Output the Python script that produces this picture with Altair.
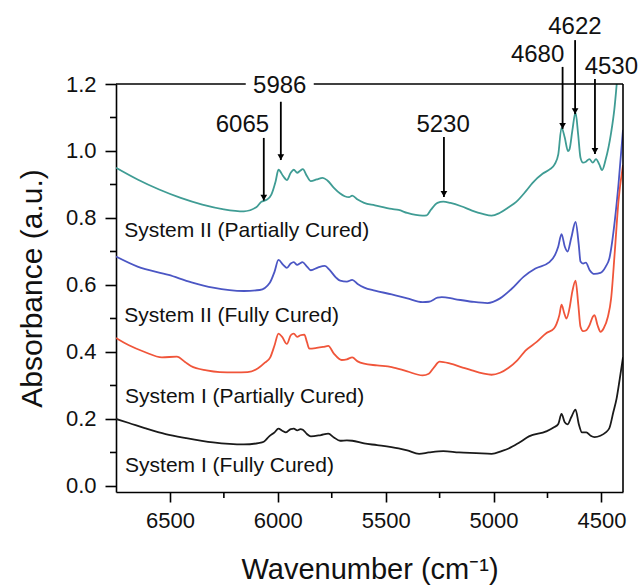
import altair as alt
import pandas as pd

# ---------------- data ----------------
series_names = ["System II (Partially Cured)", "System II (Fully Cured)",
                "System I (Partially Cured)", "System I (Fully Cured)"]
series_colors = ["#3f9c94", "#4b56c4", "#f0553a", "#1a1a1a"]

s2p_wn = [6750, 6650, 6550, 6450, 6350, 6250, 6157, 6100, 6077, 6050, 6030, 6010, 5997, 5975,
          5958, 5940, 5926, 5910, 5898, 5884, 5865, 5847, 5820, 5792, 5770, 5740, 5711, 5690,
          5670, 5655, 5630, 5600, 5550, 5472, 5440, 5400, 5329, 5310, 5290, 5260, 5233, 5200,
          5150, 5100, 5050, 5009, 4972, 4930, 4895, 4850, 4819, 4773, 4740, 4717, 4700, 4685,
          4670, 4655, 4648, 4635, 4620, 4608, 4597, 4585, 4572, 4556, 4540, 4525, 4510, 4497,
          4481, 4455, 4440, 4429, 4415]
s2p_val = [0.950, 0.915, 0.885, 0.860, 0.840, 0.826, 0.820, 0.832, 0.848, 0.855, 0.870, 0.910,
           0.944, 0.925, 0.913, 0.935, 0.944, 0.935, 0.940, 0.946, 0.925, 0.910, 0.915, 0.920,
           0.912, 0.890, 0.873, 0.865, 0.862, 0.867, 0.855, 0.845, 0.838, 0.827, 0.824, 0.815,
           0.807, 0.808, 0.825, 0.845, 0.849, 0.845, 0.835, 0.822, 0.812, 0.807, 0.815, 0.832,
           0.848, 0.880, 0.905, 0.932, 0.945, 0.960, 0.990, 1.070, 1.040, 1.000, 1.005, 1.060,
           1.115, 1.050, 0.980, 0.965, 0.968, 0.976, 0.965, 0.976, 0.960, 0.943, 0.973, 1.055,
           1.125, 1.200, 1.300]

s2f_wn = [6750, 6650, 6506, 6400, 6300, 6157, 6084, 6037, 6015, 5997, 5975, 5958, 5940, 5926,
          5910, 5898, 5886, 5865, 5847, 5815, 5782, 5760, 5730, 5711, 5680, 5655, 5630, 5599,
          5550, 5472, 5400, 5329, 5300, 5260, 5240, 5180, 5100, 5028, 4970, 4917, 4860, 4806,
          4741, 4715, 4700, 4685, 4670, 4657, 4640, 4620, 4605, 4597, 4585, 4572, 4555, 4532,
          4505, 4480, 4463, 4438, 4421, 4400]
s2f_val = [0.685, 0.655, 0.630, 0.608, 0.592, 0.582, 0.585, 0.607, 0.640, 0.675, 0.660, 0.651,
           0.664, 0.668, 0.660, 0.664, 0.668, 0.655, 0.644, 0.652, 0.657, 0.645, 0.622, 0.613,
           0.610, 0.615, 0.603, 0.592, 0.583, 0.572, 0.560, 0.549, 0.550, 0.562, 0.564, 0.558,
           0.550, 0.546, 0.560, 0.588, 0.625, 0.649, 0.668, 0.690, 0.715, 0.752, 0.715, 0.700,
           0.740, 0.788, 0.720, 0.670, 0.664, 0.667, 0.645, 0.633, 0.636, 0.655, 0.680, 0.792,
           0.900, 1.063]

s1p_wn = [6750, 6690, 6617, 6537, 6468, 6430, 6403, 6330, 6269, 6200, 6140, 6090, 6060, 6035,
          6015, 5997, 5980, 5958, 5940, 5926, 5910, 5895, 5877, 5865, 5854, 5820, 5790, 5766,
          5740, 5704, 5680, 5655, 5630, 5600, 5540, 5472, 5400, 5329, 5300, 5275, 5250, 5200,
          5150, 5100, 5050, 5009, 4970, 4930, 4890, 4852, 4800, 4756, 4720, 4708, 4695, 4685,
          4672, 4662, 4648, 4635, 4620, 4607, 4597, 4585, 4570, 4555, 4540, 4532, 4518, 4504,
          4490, 4470, 4455, 4438, 4421, 4400]
s1p_val = [0.442, 0.420, 0.400, 0.384, 0.386, 0.370, 0.358, 0.345, 0.340, 0.339, 0.340, 0.352,
           0.368, 0.384, 0.420, 0.455, 0.445, 0.424, 0.450, 0.455, 0.445, 0.450, 0.452, 0.430,
           0.410, 0.412, 0.415, 0.418, 0.395, 0.376, 0.378, 0.384, 0.372, 0.365, 0.360, 0.355,
           0.342, 0.330, 0.335, 0.355, 0.371, 0.365, 0.355, 0.345, 0.336, 0.332, 0.338, 0.353,
           0.375, 0.404, 0.430, 0.456, 0.470, 0.484, 0.510, 0.541, 0.515, 0.500, 0.530, 0.580,
           0.613, 0.540, 0.475, 0.462, 0.465, 0.480, 0.505, 0.510, 0.480, 0.460, 0.470, 0.505,
           0.560, 0.700, 0.850, 0.958]

s1f_wn = [6750, 6690, 6617, 6520, 6426, 6300, 6157, 6090, 6065, 6040, 6015, 5997, 5980, 5962,
          5940, 5926, 5910, 5895, 5884, 5865, 5847, 5800, 5766, 5740, 5711, 5680, 5655, 5600,
          5540, 5440, 5400, 5345, 5300, 5233, 5160, 5080, 5009, 4960, 4930, 4880, 4836, 4756,
          4720, 4700, 4685, 4670, 4657, 4640, 4620, 4605, 4590, 4570, 4550, 4532, 4505, 4480,
          4463, 4445, 4430, 4415, 4400]
s1f_val = [0.200, 0.188, 0.173, 0.155, 0.143, 0.130, 0.124, 0.128, 0.132, 0.148, 0.160, 0.171,
           0.165, 0.160, 0.170, 0.171, 0.166, 0.170, 0.168, 0.155, 0.148, 0.152, 0.156, 0.145,
           0.135, 0.136, 0.135, 0.127, 0.122, 0.112, 0.106, 0.096, 0.100, 0.104, 0.100, 0.098,
           0.096, 0.105, 0.112, 0.130, 0.148, 0.163, 0.175, 0.185, 0.215, 0.190, 0.184, 0.205,
           0.228, 0.185, 0.160, 0.160, 0.150, 0.146, 0.150, 0.160, 0.173, 0.220, 0.260, 0.320,
           0.384]

# series label positions (left edge wavenumber, baseline absorbance)
label_wn = [6712, 6712, 6708, 6708]
label_val = [0.743, 0.490, 0.248, 0.043]

# peak annotations
peak_labels = ["6065", "5986", "5230", "4680", "4622", "4530"]
peak_wn = [6065, 5986, 5230, 4680, 4622, 4530]
peak_label_wn = [6164, 5991, 5234, 4796, 4623, 4454]
peak_label_val = [1.058, 1.172, 1.057, 1.266, 1.350, 1.230]
arrow_start = [1.039, 1.147, 1.042, 1.251, 1.331, 1.215]
arrow_tip = [0.852, 0.973, 0.863, 1.066, 1.110, 0.991]

x_major = [6500, 6000, 5500, 5000, 4500]
x_minor = [6250, 5750, 5250, 4750]
y_major = [0.0, 0.2, 0.4, 0.6, 0.8, 1.0, 1.2]
y_minor = [0.1, 0.3, 0.5, 0.7, 0.9, 1.1]
X_DOMAIN = [4400, 6750]
Y_DOMAIN = [-0.018, 1.2]

# ---------------- build ----------------
W, H = 507, 408
FONT = "Liberation Sans"

rows = []
for name, wn, val in [(series_names[0], s2p_wn, s2p_val), (series_names[1], s2f_wn, s2f_val),
                      (series_names[2], s1p_wn, s1p_val), (series_names[3], s1f_wn, s1f_val)]:
    for a, b in zip(wn, val):
        rows.append({"series": name, "wn": a, "val": b})
spec_df = pd.DataFrame(rows)

xscale = alt.Scale(domain=X_DOMAIN, reverse=True, nice=False, zero=False)
yscale = alt.Scale(domain=Y_DOMAIN, nice=False, zero=False)

X_TITLE = "Wavenumber (cm\u207b\u00b9)"
Y_TITLE = "Absorbance (a.u.)"
x_axis = alt.Axis(values=x_major, format="d", title=X_TITLE,
                  tickSize=10, tickWidth=1.6, tickColor="black", domainColor="black",
                  domainWidth=1.6, labelFontSize=22, labelFont=FONT, labelColor="#111",
                  labelPadding=8, titleFontSize=29, titleFont=FONT, titleFontWeight="normal",
                  titleColor="#111", titlePadding=24, grid=False, labelFlush=False)
y_axis = alt.Axis(values=y_major, format=".1f", title=Y_TITLE,
                  tickSize=11, tickWidth=1.6, tickColor="black", domainColor="black",
                  domainWidth=1.6, labelFontSize=22, labelFont=FONT, labelColor="#111",
                  labelPadding=9, titleFontSize=30, titleFont=FONT, titleFontWeight="normal",
                  titleColor="#111", titlePadding=18, grid=False, labelFlush=False)


def X(field):
    return alt.X(field, type="quantitative", scale=xscale, axis=x_axis, title=X_TITLE)


def Y(field):
    return alt.Y(field, type="quantitative", scale=yscale, axis=y_axis, title=Y_TITLE)


lines = alt.Chart(spec_df).mark_line(strokeWidth=1.8, clip=True, interpolate="monotone").encode(
    x=X("wn"), y=Y("val"),
    color=alt.Color("series:N", scale=alt.Scale(domain=series_names, range=series_colors), legend=None),
    detail="series:N",
)

frame_top = alt.Chart(pd.DataFrame({"val": [Y_DOMAIN[1]]})).mark_rule(
    color="black", strokeWidth=1.6).encode(y=Y("val"))
frame_right = alt.Chart(pd.DataFrame({"wn": [X_DOMAIN[0]]})).mark_rule(
    color="black", strokeWidth=1.6).encode(x=X("wn"))

minor_x = alt.Chart(pd.DataFrame({"wn": x_minor})).mark_rule(color="black", strokeWidth=1.6).encode(
    x=X("wn"), y=alt.value(H), y2=alt.value(H + 6))
minor_y = alt.Chart(pd.DataFrame({"val": y_minor})).mark_rule(color="black", strokeWidth=1.6).encode(
    y=Y("val"), x=alt.value(-6), x2=alt.value(0))

ann_df = pd.DataFrame({"label": peak_labels, "peak": peak_wn, "lwn": peak_label_wn,
                       "lval": peak_label_val, "y0": arrow_start, "y1": arrow_tip})

# white box that interrupts the top frame behind the "5986" label
box = alt.Chart(ann_df[ann_df["label"] == "5986"]).mark_point(
    shape="M-1,-0.32L1,-0.32L1,0.32L-1,0.32Z", filled=True, fill="white", opacity=1,
    strokeWidth=0, size=68 * 68, yOffset=-8).encode(x=X("lwn"), y=Y("lval"))

arrows = alt.Chart(ann_df).mark_rule(color="black", strokeWidth=1.8).encode(
    x=X("peak"), y=Y("y0"), y2="y1:Q")
heads = alt.Chart(ann_df).mark_point(shape="triangle-down", filled=True, color="black",
                                     opacity=1, size=45, yOffset=-3).encode(
    x=X("peak"), y=Y("y1"))
ann_text = alt.Chart(ann_df).mark_text(fontSize=24, font=FONT, color="#111", align="center",
                                       baseline="alphabetic").encode(
    x=X("lwn"), y=Y("lval"), text="label:N")

lab_df = pd.DataFrame({"name": series_names, "wn": label_wn, "val": label_val})
labels = alt.Chart(lab_df).mark_text(fontSize=21, font=FONT, color="#111", align="left",
                                     baseline="alphabetic").encode(
    x=X("wn"), y=Y("val"), text="name:N")

chart = alt.layer(lines, frame_top, frame_right, minor_x, minor_y, box, arrows, heads,
                  ann_text, labels).properties(
    width=W, height=H,
    autosize=alt.AutoSizeParams(type="none"),
    padding={"left": 116, "top": 84, "right": 16, "bottom": 96},
    background="white",
).configure_view(stroke=None)

chart.save("out.html", embed_options={"renderer": "svg", "actions": False})
